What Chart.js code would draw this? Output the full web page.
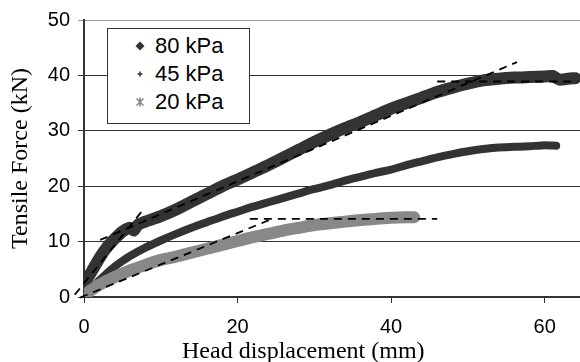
<!DOCTYPE html>
<html>
<head>
<meta charset="utf-8">
<script src="https://cdn.jsdelivr.net/npm/chart.js@4.4.1/dist/chart.umd.min.js"></script>
<style>
  html, body { margin: 0; padding: 0; background: #fff; }
  #wrap { position: relative; width: 580px; height: 362px; }
  #legend { position: absolute; left: 107px; top: 28px; width: 141px; height: 94px; border: 1px solid #333; background: #fff;
            font-family: 'Liberation Sans', Arial, sans-serif; font-size: 22px; color: #000; }
  .row { position: absolute; left: 0; width: 141px; height: 28px; line-height: 28px; }
  .row svg { position: absolute; left: 26px; top: 8px; }
  .row span { position: absolute; left: 47px; white-space: nowrap; }
  #xtitle { position: absolute; left: 182px; top: 336px; font-family: 'Liberation Serif', 'Times New Roman', serif;
            font-size: 24px; line-height: 28px; white-space: nowrap; color: #000; }
</style>
</head>
<body>
<div id="wrap">
  <canvas id="chart" width="580" height="362"></canvas>
  <div id="legend">
    <div class="row" style="top:3px">
      <svg width="12" height="12"><polygon points="6,1.5 10.5,6 6,10.5 1.5,6" fill="#333"/></svg>
      <span>80 kPa</span>
    </div>
    <div class="row" style="top:31px">
      <svg width="12" height="12"><path d="M6 3.5 V8.5 M3.5 6 H8.5" stroke="#333" stroke-width="1.5"/></svg>
      <span>45 kPa</span>
    </div>
    <div class="row" style="top:59px">
      <svg width="12" height="12"><path d="M2.5 2.5 L9.5 9.5 M9.5 2.5 L2.5 9.5 M6 1.5 V10.5" stroke="#888" stroke-width="1.6"/></svg>
      <span>20 kPa</span>
    </div>
  </div>
  <div id="xtitle">Head displacement (mm)</div>
</div>
<script>
const disp80 = [0, 0.5, 1, 2, 3, 4, 5, 6, 6.5, 7, 8, 10, 12, 14, 16, 18, 20, 22, 24, 26, 28, 30, 32, 34, 36, 38, 40, 42, 44, 46, 48, 50, 52, 54, 56, 58, 60, 61, 62, 63, 64];
const force80 = [2.0, 3.5, 4.6, 7, 9, 10.5, 11.8, 12.5, 12, 13, 13.6, 14.6, 15.8, 17.2, 18.6, 20, 21.2, 22.5, 23.8, 25.2, 26.6, 28, 29.3, 30.5, 31.6, 32.8, 34, 35, 36, 37, 37.8, 38.5, 39.1, 39.4, 39.6, 39.7, 39.8, 39.9, 39.2, 39.4, 39.5];

const disp45 = [0, 1, 2, 3, 4, 5, 6, 8, 10, 12, 14, 16, 18, 20, 22, 24, 26, 28, 30, 32, 34, 36, 38, 40, 42, 44, 46, 48, 50, 52, 54, 56, 58, 60, 61.5];
const force45 = [0, 1.5, 3, 4.3, 5.5, 6.5, 7.4, 8.9, 10.2, 11.4, 12.5, 13.5, 14.5, 15.4, 16.3, 17.1, 17.9, 18.7, 19.5, 20.2, 21, 21.7, 22.4, 23, 23.8, 24.5, 25.2, 25.8, 26.3, 26.7, 27, 27.1, 27.2, 27.4, 27.3];

const disp20 = [0, 1, 2, 4, 6, 8, 10, 12, 14, 16, 18, 20, 22, 24, 26, 28, 30, 32, 34, 36, 38, 40, 42, 43];
const force20 = [0.3, 1.3, 2.2, 3.6, 4.8, 5.8, 6.7, 7.3, 8.0, 8.7, 9.4, 10.1, 10.8, 11.4, 12.0, 12.5, 13, 13.3, 13.6, 13.9, 14.1, 14.3, 14.4, 14.4];

// dashed fit lines
const fitSteep80X = [-1.2, 7.9], fitSteep80Y = [0.4, 16.1];
const fitMid80X = [2.1, 56.4], fitMid80Y = [10.3, 42.4];
const fitFlat80X = [46, 64.3], fitFlat80Y = [38.9, 38.9];
const fitSlope20X = [-0.5, 24.5], fitSlope20Y = [-0.1, 14.1];
const fitFlat20X = [21.6, 46], fitFlat20Y = [14.1, 14.1];

const xTicks = [0, 20, 40, 60];
const yTicks = [0, 10, 20, 30, 40, 50];

const pts = (xs, ys) => xs.map((x, i) => ({ x: x, y: ys[i] }));

function band(label, xs, ys, color, width, order) {
    return {
        label: label, data: pts(xs, ys), showLine: true, pointRadius: 0,
        borderColor: color, borderWidth: width, borderCapStyle: 'round', borderJoinStyle: 'round',
        tension: 0.2, order: order
    };
}

function fit(xs, ys) {
    return {
        data: pts(xs, ys), showLine: true, pointRadius: 0, borderColor: '#000', borderWidth: 1.8,
        borderDash: [8, 6], tension: 0, order: 0, clip: false
    };
}

const tickFont = { family: "'Liberation Sans', Arial, sans-serif", size: 20 };

new Chart(document.getElementById('chart'), {
    type: 'scatter',
    data: {
        datasets: [
            fit(fitSteep80X, fitSteep80Y), fit(fitMid80X, fitMid80Y), fit(fitFlat80X, fitFlat80Y),
            fit(fitSlope20X, fitSlope20Y), fit(fitFlat20X, fitFlat20Y),
            band('80 kPa', disp80, force80, '#333333', 12, 3),
            band('45 kPa', disp45, force45, '#333333', 8, 4),
            band('20 kPa', disp20, force20, '#888888', 12, 2)
        ]
    },
    options: {
        responsive: false, animation: false, devicePixelRatio: 1,
        layout: { padding: { top: 20, right: 0, left: 0, bottom: 0 } },
        plugins: { legend: { display: false }, tooltip: { enabled: false } },
        scales: {
            x: {
                type: 'linear', min: 0, max: 64.6,
                afterBuildTicks: s => { s.ticks = xTicks.map(v => ({ value: v })); },
                afterFit: s => { s.height = 65; },
                grid: { drawOnChartArea: false, drawTicks: true, tickLength: 6, color: '#333' },
                border: { color: '#333', width: 2 },
                ticks: { font: tickFont, color: '#000', padding: 12, maxRotation: 0 }
            },
            y: {
                min: 0, max: 50,
                afterBuildTicks: s => { s.ticks = yTicks.map(v => ({ value: v })); },
                afterFit: s => { s.width = 84; },
                grid: { tickLength: 6, color: c => c.tick && c.tick.value === 50 ? '#999' : '#333' },
                border: { color: '#333', width: 2 },
                ticks: { font: tickFont, color: '#000', padding: 8 },
                title: {
                    display: true, text: 'Tensile Force (kN)', color: '#000', padding: { top: 6, bottom: 0 },
                    font: { family: "'Liberation Serif', 'Times New Roman', serif", size: 24 }
                }
            }
        }
    }
});
</script>
</body>
</html>
